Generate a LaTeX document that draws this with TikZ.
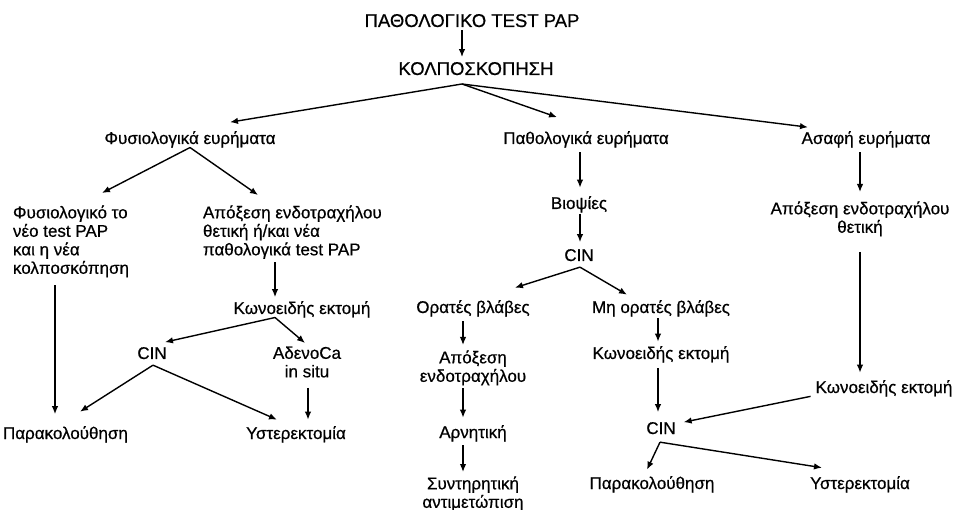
\documentclass[tikz,border=0pt]{standalone}
\usepackage{fontspec}
\setmainfont{Liberation Sans}
\newfontfamily\diagfont{Liberation Sans}[FakeBold=0.6]
\usetikzlibrary{
  arrows.meta,
  positioning,
}
\def\mylw{1.4pt}
\tikzset{
  >={Latex[length=8pt,width=6.5pt]},
  my text/.style={
    inner sep=0pt,
    outer sep=0pt,
    font=\diagfont\fontsize{17}{18.5}\selectfont,
    anchor=base
  },
  my title/.style={
    my text,
    font=\diagfont\fontsize{18.5}{20}\selectfont
  },
  my block/.style={
    my text,
    anchor=north west,
    align=left
  },
  my cblock/.style={
    my text,
    anchor=north,
    align=center
  },
  flow/.style={
    x=1pt,
    y=-1pt,
    line width=\mylw
  }
}

\begin{document}
\begin{tikzpicture}[flow]
\useasboundingbox (0,0) rectangle (953,510);
% top
\node[my title] (title) at (472,27) {ΠΑΘΟΛΟΓΙΚΟ TEST PAP};
\node[my title] (kolp) at (476,75) {ΚΟΛΠΟΣΚΟΠΗΣΗ};
\coordinate (kolp-s) at (462,84);
\node[my text] (fys) at (190,144) {Φυσιολογικά ευρήματα};
\node[my text] (pathol) at (586,144) {Παθολογικά ευρήματα};
\node[my text] (asafi) at (866,144) {Ασαφή ευρήματα};
% left
\node[my block] (physnew) at (13,205.5) {Φυσιολογικό το\\νέο test PAP\\και η νέα\\κολποσκόπηση};
\node[my block] (apox1) at (203,205.5) {Απόξεση ενδοτραχήλου\\θετική ή/και νέα\\παθολογικά test PAP};
\node[my text] (kon1) at (302,314) {Κωνοειδής εκτομή};
\node[my text] (cin2) at (152,359) {CIN};
\node[my cblock] (adeno) at (307,346.5) {AδενοCa\\in situ};
\node[my text,anchor=base west] (parak1) at (3,439) {Παρακολούθηση};
\node[my text] (yster1) at (296,439) {Υστερεκτομία};
% middle
\node[my text] (biopsy) at (579,209) {Βιοψίες};
\node[my text] (cin1) at (579,261) {CIN};
\node[my text] (orat) at (473,313) {Ορατές βλάβες};
\node[my text] (mhorat) at (661,313) {Μη ορατές βλάβες};
\node[my cblock] (apox2) at (473,350.5) {Απόξεση\\ενδοτραχήλου};
\node[my text] (arnit) at (473,438) {Αρνητική};
\node[my cblock] (syntir) at (473,476.5) {Συντηρητική\\αντιμετώπιση};
\node[my text] (kon2) at (661,359) {Κωνοειδής εκτομή};
\node[my text] (cin3) at (661,434) {CIN};
\node[my text] (parak2) at (652,489) {Παρακολούθηση};
\node[my text] (yster2) at (860,489) {Υστερεκτομία};
% right
\node[my cblock] (apox3) at (860,201.5) {Απόξεση ενδοτραχήλου\\θετική};
\node[my text] (kon3) at (884,393) {Κωνοειδής εκτομή};

\path[->]
  ([xshift=-10pt]title.south) edge[shorten <=3pt,shorten >=5pt] ([xshift=-14pt]kolp.north)
  (kolp-s) edge ([xshift=40pt,yshift=9pt]fys.north)
           edge ([xshift=-29pt,yshift=14pt]pathol.north)
           edge ([xshift=-58pt,yshift=4pt]asafi.north)
  (fys.south) edge ([xshift=89pt,yshift=12.5pt]physnew.north west)
              edge ([xshift=55pt,yshift=10.5pt]apox1.north west)
  ([xshift=42pt,yshift=-8pt]physnew.south west) edge ([xshift=52pt,yshift=12pt]parak1.north west)
  ([xshift=72pt,yshift=-3.5pt]apox1.south west) edge ([xshift=-27pt,yshift=4pt]kon1.north)
  ([xshift=-27pt]kon1.south) edge ([xshift=13pt,yshift=5pt]cin2.north)
                             edge ([xshift=-2pt,yshift=3.5pt]adeno.north)
  ([xshift=1pt,yshift=-6pt]cin2.south) edge ([xshift=77pt,yshift=14.5pt]parak1.north west)
                                       edge ([xshift=-19pt,yshift=6.5pt]yster1.north)
  ([xshift=1pt,yshift=-10.5pt]adeno.south) edge ([xshift=12pt,yshift=6.5pt]yster1.north)
  ([xshift=-6pt,yshift=-4.5pt]pathol.south) edge ([xshift=1pt,yshift=8.5pt]biopsy.north)
  ([xshift=1pt,yshift=-1pt]biopsy.south) edge ([xshift=1pt,yshift=7pt]cin1.north)
  ([xshift=1pt,yshift=-6pt]cin1.south) edge ([xshift=42pt,yshift=12.5pt]orat.north)
                                       edge ([xshift=-34pt,yshift=5.5pt]mhorat.north)
  ([xshift=-10pt,yshift=-4.5pt]orat.south) edge ([xshift=-10pt,yshift=5.5pt]apox2.north)
  ([xshift=-10pt,yshift=-3pt]apox2.south) edge ([xshift=-10pt,yshift=7.5pt]arnit.north)
  ([xshift=-10pt,yshift=-3.5pt]arnit.south) edge ([xshift=-10pt,yshift=4.5pt]syntir.north)
  ([xshift=-3pt,yshift=-1.5pt]mhorat.south) edge ([xshift=-3pt,yshift=4.5pt]kon2.north)
  ([xshift=-3pt,yshift=-5.5pt]kon2.south) edge ([xshift=-3pt,yshift=10pt]cin3.north)
  ([xshift=-6pt,yshift=-4.5pt]asafi.south) edge ([yshift=9.5pt]apox3.north)
  ([yshift=-15.5pt]apox3.south) edge ([xshift=-24pt,yshift=7.5pt]kon3.north)
  ([xshift=-5pt,yshift=-8pt]kon3.west) edge ([xshift=8pt,yshift=6pt]cin3.east)
  ([xshift=-1pt,yshift=-8pt]cin3.south) edge ([xshift=-5pt,yshift=6.5pt]parak2.north)
                                        edge ([xshift=-38pt,yshift=8.5pt]yster2.north);
\end{tikzpicture}
\end{document}
